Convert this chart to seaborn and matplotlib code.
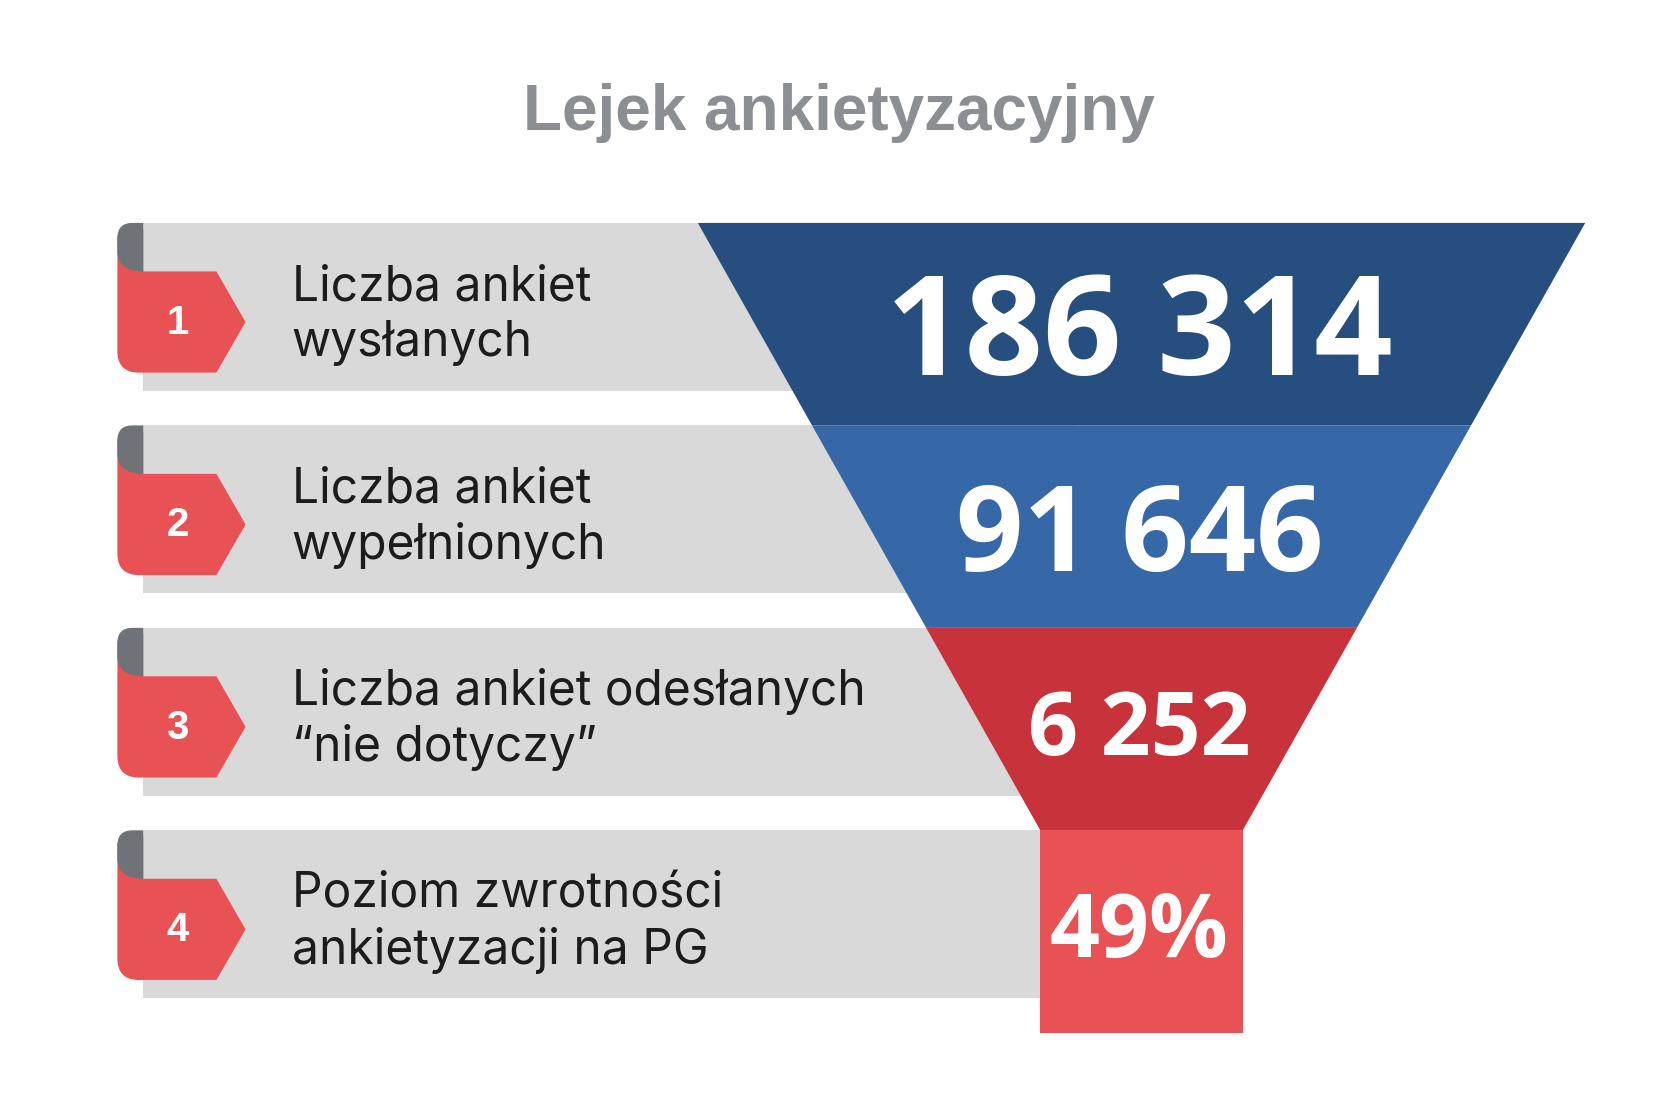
import numpy as np
import matplotlib
matplotlib.use("Agg")
import matplotlib.pyplot as plt
import seaborn as sns
from matplotlib.patches import Polygon, PathPatch
from matplotlib.path import Path

# Data
steps = [1, 2, 3, 4]
labels = [
    "Liczba ankiet\nwysłanych",
    "Liczba ankiet\nwypełnionych",
    "Liczba ankiet odesłanych\n“nie dotyczy”",
    "Poziom zwrotności\nankietyzacji na PG",
]
values = [186314, 91646, 6252, 49]
value_labels = [f"{v:,}".replace(",", " ") for v in values[:3]] + [f"{values[3]}%"]
title = "Lejek ankietyzacyjny"

# Style
funnel_colors = ["#264f80", "#3667a6", "#c8323a", "#e85254"]
badge_red = "#e85254"
fold_gray = "#6f7276"
bar_gray = "#d9d9d9"
value_sizes = [99, 85, 63, 63]

sns.set_theme(style="white")
plt.rcParams["font.family"] = ["Inter", "DejaVu Sans"]

fig = plt.figure(figsize=(16.8, 11.2), dpi=100)
ax = fig.add_axes([0, 0, 1, 1])
ax.set_xlim(0, 1560)
ax.set_ylim(1040, 0)
ax.axis("off")

row0, pitch, bar_h = 207, 188, 156
tops = [row0 + pitch * i for i in range(len(steps))]

# gray label bars
ax.barh([t + bar_h / 2 for t in tops], [1000 - 133] * len(tops), left=133,
        height=bar_h, color=bar_gray, edgecolor="none", zorder=1)

# funnel
cx, half0, step_w = 1060, 412, 106
for i, t in enumerate(tops):
    if i < len(tops) - 1:
        ht, hb = half0 - step_w * i, half0 - step_w * (i + 1)
    else:
        ht = hb = half0 - step_w * i
    poly = Polygon([(cx - ht, t), (cx + ht, t), (cx + hb, t + pitch), (cx - hb, t + pitch)],
                   closed=True, facecolor=funnel_colors[i], edgecolor="none", zorder=2)
    ax.add_patch(poly)
    cap = value_sizes[i] / 0.775 * 0.714
    center = t + (96 if i < 2 else 89)
    ax.text(cx - 2, center + cap / 2, value_labels[i], ha="center", va="baseline",
            fontsize=value_sizes[i], fontweight="bold", color="white",
            family=["Open Sans", "DejaVu Sans"], zorder=3)


def badge(t, num):
    M, L, C = Path.MOVETO, Path.LINETO, Path.CURVE3
    red = [
        ((133, t + 45), M), ((201, t + 45), L), ((228, t + 92), L), ((201, t + 139), L),
        ((129, t + 139), L), ((109, t + 139), C), ((109, t + 119), C),
        ((109, t + 14), L), ((109, t + 6), C), ((121, t + 6), C), ((133, t + 6), L),
        ((133, t + 45), L),
    ]
    verts, codes = zip(*red)
    ax.add_patch(PathPatch(Path(verts, codes), facecolor=badge_red, edgecolor="none", zorder=3))
    fold = [
        ((133, t), M), ((123, t), L), ((109, t), C), ((109, t + 14), C),
        ((109, t + 27), L), ((110, t + 45), C), ((133, t + 45), C), ((133, t), L),
    ]
    verts, codes = zip(*fold)
    ax.add_patch(PathPatch(Path(verts, codes), facecolor=fold_gray, edgecolor="none", zorder=4))
    ax.text(165, t + 103, str(num), ha="center", va="baseline", fontsize=29,
            fontweight="bold", color="white", family=["Liberation Sans", "DejaVu Sans"], zorder=5)


for t, s, lab in zip(tops, steps, labels):
    badge(t, s)
    l1, l2 = lab.split("\n")
    ax.text(271, t + 72, l1, ha="left", va="baseline", fontsize=34.5, color="#1c1c1c", zorder=3)
    ax.text(271, t + 124, l2, ha="left", va="baseline", fontsize=34.5, color="#1c1c1c", zorder=3)

ax.text(779, 121, title, ha="center", va="baseline", fontsize=46, fontweight="bold",
        color="#8b8e92", family=["Liberation Sans", "DejaVu Sans"])

plt.savefig("out.png", dpi=100, facecolor="white")
